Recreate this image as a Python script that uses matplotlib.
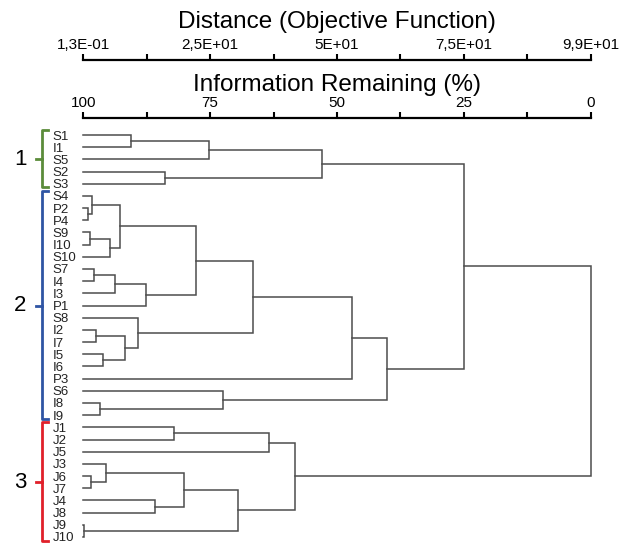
import matplotlib
matplotlib.use("Agg")
import matplotlib.pyplot as plt
from matplotlib import transforms

plt.rcParams['font.family'] = ['Liberation Sans', 'DejaVu Sans']

# leaf order, top to bottom
leaves = ['S1', 'I1', 'S5', 'S2', 'S3',
          'S4', 'P2', 'P4', 'S9', 'I10', 'S10', 'S7', 'I4', 'I3', 'P1',
          'S8', 'I2', 'I7', 'I5', 'I6', 'P3', 'S6', 'I8', 'I9',
          'J1', 'J2', 'J5', 'J3', 'J6', 'J7', 'J4', 'J8', 'J9', 'J10']

# merges: (left, right, information remaining %) ; "mN" = result of merge N
merge_left = ['S1', 'm0', 'S2', 'm1', 'P2', 'S4', 'S9', 'm6', 'm5', 'S7', 'm9',
              'm10', 'm8', 'I2', 'I5', 'm13', 'S8', 'm12', 'm17', 'I8', 'S6',
              'm18', 'm3', 'J1', 'm23', 'J6', 'J3', 'J4', 'm26', 'J9', 'm28',
              'm24', 'm22']
merge_right = ['I1', 'S5', 'S3', 'm2', 'P4', 'm4', 'I10', 'S10', 'm7', 'I4', 'I3',
               'P1', 'm11', 'I7', 'I6', 'm14', 'm15', 'm16', 'P3', 'I9', 'm19',
               'm20', 'm21', 'J2', 'J5', 'J7', 'm25', 'J8', 'm27', 'J10', 'm29',
               'm30', 'm31']
merge_height = [90.6, 75.2, 83.9, 53.0, 99.0, 98.2, 98.7, 94.7, 92.8, 97.8, 93.8,
                87.7, 77.7, 97.4, 96.1, 91.8, 89.2, 66.6, 47.1, 96.7, 72.5,
                40.2, 25.0, 82.1, 63.5, 98.5, 95.5, 85.9, 80.1, 99.8, 69.6,
                58.3, 0.0]

# groups
group_names = ['1', '2', '3']
group_first = ['S1', 'S4', 'J1']
group_last = ['S3', 'I9', 'J10']
group_colors = ['#5b8c3a', '#2f55a4', '#e0202a']

# top axes labels
info_ticks = [100, 75, 50, 25, 0]
info_labels = ['100', '75', '50', '25', '0']
dist_labels = ['1,3E-01', '2,5E+01', '5E+01', '7,5E+01', '9,9E+01']
minor_ticks = [87.5, 62.5, 37.5, 12.5]

W, H = 619, 546
fig = plt.figure(figsize=(W / 100, H / 100), dpi=100)
ax = fig.add_axes([83.3 / W, 0, (590.7 - 83.3) / W, (H - 118) / H])

pos = {name: (100.0, float(i)) for i, name in enumerate(leaves)}
lc = '#4d4d4d'
for k, (a, b, h) in enumerate(zip(merge_left, merge_right, merge_height)):
    xa, ya = pos[a]
    xb, yb = pos[b]
    ax.plot([xa, h, h, xb], [ya, ya, yb, yb], color=lc, lw=1.1,
            solid_joinstyle='miter', clip_on=False)
    pos['m%d' % k] = (h, (ya + yb) / 2)

n = len(leaves)
ax.set_xlim(100, 0)
ax.set_ylim(33.74, -1.396)

ax.set_yticks(range(n), leaves)
ax.tick_params(axis='y', length=0, pad=22, labelsize=9.5, labelcolor='#222222')
for t in ax.get_yticklabels():
    t.set_horizontalalignment('left')

for s in ['left', 'right', 'bottom']:
    ax.spines[s].set_visible(False)
ax.spines['top'].set_linewidth(1.6)
ax.xaxis.set_ticks_position('top')
ax.xaxis.set_label_position('top')
ax.set_xticks(info_ticks, info_labels)
ax.set_xticks(minor_ticks, minor=True)
ax.tick_params(axis='x', which='both', direction='out', length=4, width=1.5,
               labelsize=11, pad=2)
ax.set_xlabel('Information Remaining (%)', fontsize=17.5, labelpad=3)

sec = ax.secondary_xaxis(1 + 58 / (H - 118))
sec.spines['top'].set_linewidth(1.6)
sec.set_xticks(info_ticks, dist_labels)
sec.set_xticks(minor_ticks, minor=True)
sec.tick_params(axis='x', which='both', direction='out', length=4, width=1.5,
                labelsize=11, pad=2)
sec.set_xlabel('Distance (Objective Function)', fontsize=17.5, labelpad=7)

# group brackets
tr = transforms.blended_transform_factory(fig.transFigure, ax.transData)
bx = 42 / W
for name, f, l, c in zip(group_names, group_first, group_last, group_colors):
    y0 = leaves.index(f) - 0.4
    y1 = leaves.index(l) + 0.3
    ym = (leaves.index(f) + leaves.index(l)) / 2
    ax.plot([bx + 6 / W, bx, bx, bx + 6 / W], [y0, y0, y1, y1], color=c, lw=2,
            transform=tr, clip_on=False)
    ax.plot([bx - 6 / W, bx], [ym, ym], color=c, lw=2, transform=tr, clip_on=False)
    ax.text(20 / W, ym, name, transform=tr, fontsize=16, ha='center', va='center')

fig.savefig('out.png', dpi=100)
